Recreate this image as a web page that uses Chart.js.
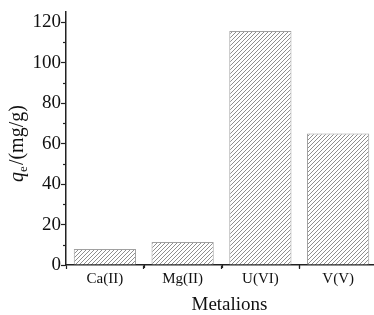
<!DOCTYPE html>
<html><head><meta charset="utf-8">
<script src="https://cdn.jsdelivr.net/npm/chart.js@4.4.0/dist/chart.umd.min.js"></script>
<style>
html,body{margin:0;padding:0;background:#fff;overflow:hidden;width:374px;height:315px}
#wrap{width:377px;height:315px;position:relative}
</style>
</head><body><div id="wrap"><canvas id="c" width="377" height="315"></canvas></div>
<script>
const categories = ['Ca(II)', 'Mg(II)', 'U(VI)', 'V(V)'];
const qeValues = [7.9, 11.4, 115.6, 65.0];
const yTicks = [0, 20, 40, 60, 80, 100, 120];
const yMinorTicks = [10, 30, 50, 70, 90, 110];
const yMax = 125;

const canvas = document.getElementById('c');
const ctx0 = canvas.getContext('2d');
function hatch() {
  const p = document.createElement('canvas'); p.width = 4; p.height = 4;
  const g = p.getContext('2d');
  g.fillStyle = '#fff'; g.fillRect(0, 0, 4, 4);
  g.strokeStyle = '#8e8e8e'; g.lineWidth = 1;
  g.beginPath();
  g.moveTo(0, 4); g.lineTo(4, 0);
  g.moveTo(-1, 1); g.lineTo(1, -1);
  g.moveTo(3, 5); g.lineTo(5, 3);
  g.stroke();
  return ctx0.createPattern(p, 'repeat');
}
const SERIF = "'Liberation Serif', 'Times New Roman', serif";
const AXIS = '#222';

const extras = {
  id: 'extras',
  afterDraw(chart) {
    const ctx = chart.ctx, ys = chart.scales.y, xs = chart.scales.x;
    const ca = chart.chartArea;
    ctx.save();
    ctx.strokeStyle = AXIS; ctx.lineWidth = 1.2;
    yMinorTicks.forEach(v => {
      const py = Math.round(ys.getPixelForValue(v)) + 0.5;
      ctx.beginPath(); ctx.moveTo(ca.left - 3, py); ctx.lineTo(ca.left, py); ctx.stroke();
    });
    for (let i = 0; i < categories.length - 1; i++) {
      const px = Math.round((xs.getPixelForTick(i) + xs.getPixelForTick(i + 1)) / 2) + 0.5;
      ctx.beginPath(); ctx.moveTo(px, ca.bottom); ctx.lineTo(px, ca.bottom + 3); ctx.stroke();
    }
    ctx.fillStyle = '#111';
    ctx.font = "19px " + SERIF;
    ctx.textAlign = 'center'; ctx.textBaseline = 'alphabetic';
    ctx.fillText('Metalions', (ca.left + ca.right) / 2 + 8, 309.5);
    const fMain = "20px " + SERIF, fIt = "italic 20px " + SERIF, fSub = "13px " + SERIF;
    ctx.font = fIt; const wq = ctx.measureText('q').width;
    ctx.font = fSub; const we = ctx.measureText('e').width;
    ctx.font = fMain; const wr = ctx.measureText('/(mg/g)').width;
    const total = wq + we + wr + 1;
    const cy = (ca.top + ca.bottom) / 2 + 5;
    ctx.translate(23, cy);
    ctx.rotate(-Math.PI / 2);
    ctx.textAlign = 'left';
    let x = -total / 2;
    ctx.font = fIt; ctx.fillText('q', x, 0); x += wq;
    ctx.font = fSub; ctx.fillText('e', x, 4); x += we + 1;
    ctx.font = fMain; ctx.fillText('/(mg/g)', x, 0);
    ctx.restore();
  }
};

new Chart(canvas, {
  type: 'bar',
  data: {
    labels: categories,
    datasets: [{
      data: qeValues,
      backgroundColor: hatch(),
      borderColor: '#a0a0a0',
      borderWidth: 1,
      categoryPercentage: 1.0,
      barPercentage: 0.8
    }]
  },
  options: {
    responsive: false,
    animation: false,
    layout: { padding: { top: 12, right: 0, left: 0, bottom: 0 } },
    plugins: { legend: { display: false }, tooltip: { enabled: false } },
    scales: {
      x: {
        afterFit(s) { s.height = 50; },
        grid: { display: true, drawOnChartArea: false, drawTicks: true, tickLength: 4, tickColor: AXIS, tickWidth: 1.2 },
        border: { display: true, color: AXIS, width: 1.5 },
        ticks: { color: '#111', font: { family: SERIF, size: 15 }, padding: 1, maxRotation: 0 }
      },
      y: {
        min: 0, max: yMax,
        afterFit(s) { s.width = 66; },
        afterBuildTicks(s) { s.ticks = yTicks.map(v => ({ value: v })); },
        grid: { display: true, drawOnChartArea: false, drawTicks: true, tickLength: 5, tickColor: AXIS, tickWidth: 1.2 },
        border: { display: true, color: AXIS, width: 1.5 },
        ticks: { color: '#111', font: { family: SERIF, size: 19 }, padding: 0 }
      }
    }
  },
  plugins: [extras]
});
</script>
</body></html>
